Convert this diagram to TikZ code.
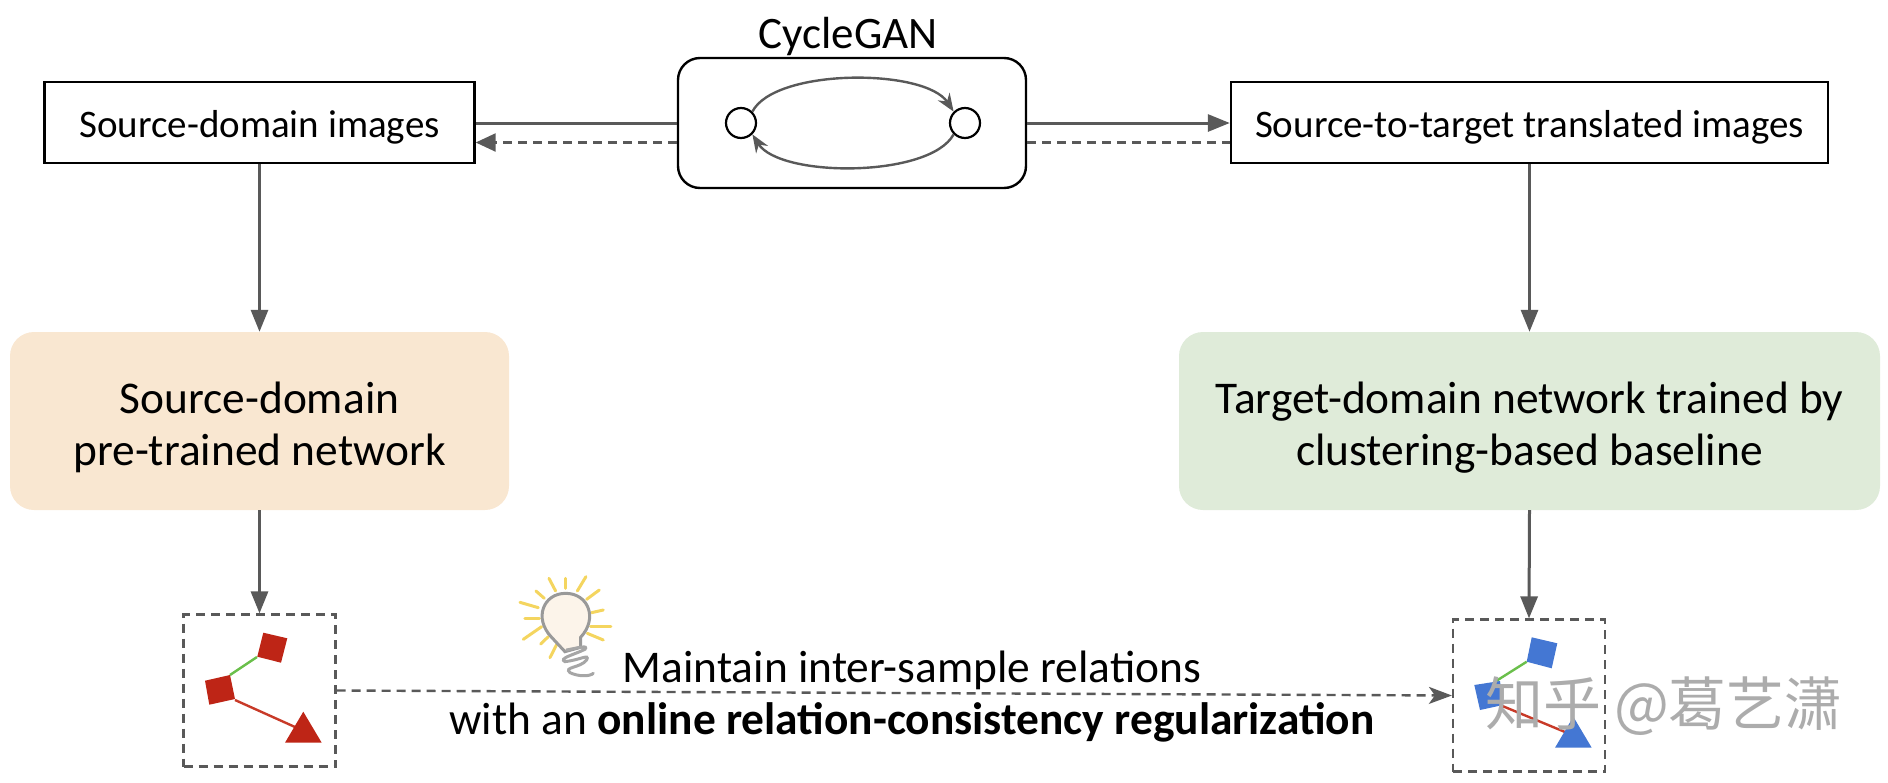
\documentclass[tikz,border=0pt]{standalone}
\usepackage{fontspec}
\setmainfont{Carlito}
\newfontfamily\cjkwm{Noto Sans CJK SC}
\usetikzlibrary{arrows.meta}
\definecolor{linegray}{HTML}{595959}
\definecolor{orangefill}{HTML}{F9E7D1}
\definecolor{greenfill}{HTML}{DFEBD9}
\definecolor{redshape}{HTML}{BE2516}
\definecolor{blueshape}{HTML}{4477D3}
\definecolor{greenline}{HTML}{6ABF4B}
\definecolor{redline}{HTML}{C83A28}
\definecolor{raycolor}{HTML}{F4D55F}
\tikzset{
  x=1pt,y=-1pt,
  lab/.style={inner sep=0pt,align=center},
  plainbox/.style={draw=black,line width=2.4pt,inner sep=0pt,minimum width=#1,minimum height=81pt,font=\fontsize{39}{46}\selectfont},
  softbox/.style={rounded corners=24pt,inner sep=0pt,minimum height=178pt,align=center,font=\fontsize{45.4}{52}\selectfont},
  dashbox/.style={draw=linegray,line width=2.2pt,dash pattern=on 9pt off 6pt,minimum width=152pt,minimum height=152pt,inner sep=0pt},
  flow/.style={draw=linegray,line width=3pt,-{Triangle[length=22pt,width=17pt]}},
  flowplain/.style={draw=linegray,line width=3pt},
  flowdash/.style={draw=linegray,line width=2.4pt,dash pattern=on 9pt off 6pt},
  tip/.style={-{Triangle[length=20pt,width=18pt]}},
  dot/.style={circle,draw=black,line width=2.2pt,fill=white,minimum size=30pt,inner sep=0pt},
  loop/.style={draw=linegray,line width=2.4pt,-{Stealth[length=18pt,width=14pt]}},
  ray/.style={draw=raycolor,line width=3pt,line cap=round},
}
\begin{document}
\begin{tikzpicture}
\useasboundingbox (0,0) rectangle (1888,782);
% top row
\node[plainbox=430pt,text depth=9pt,text height=39pt] (src) at (259.5,122.5) {Source-domain images};
\node[plainbox=597pt,text depth=9pt,text height=39pt] (tgt) at (1529.5,122.5) {Source-to-target translated images};
\node[draw=black,line width=2.4pt,rounded corners=22pt,minimum width=348pt,minimum height=130pt,inner sep=0pt] (gan) at (852,123) {};
\node[lab,font=\fontsize{45}{50}\selectfont] (gantitle) at (848,36.5) {CycleGAN};
\node[dot] (c1) at (741,123) {};
\node[dot] (c2) at (965,123) {};
\draw[loop] (c1.north east) .. controls (775,68) and (925,68) .. (c2.north west);
\draw[loop] (c2.south west) .. controls (930,178) and (780,178) .. (c1.south east);
% links around CycleGAN
\draw[flowplain] (gan.west) -- (src.east |- gan.west);
\draw[flowdash,tip] ([yshift=-19.5pt]gan.west) -- ([yshift=-20pt]src.east);
\draw[flow] (gan.east) -- (tgt.west |- gan.east);
\draw[flowdash] ([yshift=-19.5pt]gan.east) -- ([yshift=-20pt]tgt.west);
% networks
\node[softbox,fill=orangefill,minimum width=499pt] (srcnet) at (259.5,421) {\rule{0pt}{45pt}Source-domain\\pre-trained network};
\node[softbox,fill=greenfill,minimum width=701pt] (tgtnet) at (1529.5,421) {\rule{0pt}{45pt}Target-domain network trained by\\clustering-based baseline};
\draw[flow] (src.south) -- (srcnet.north);
\draw[flow] (tgt.south) -- (tgtnet.north);
% relation boxes
\node[dashbox] (srcrel) at (259.5,690.5) {};
\node[dashbox] (tgtrel) at (1529,695.5) {};
\draw[flow] (srcnet.south) -- (srcrel.north);
\draw[flow] (tgtnet.south) -- (tgtrel.north);
\draw[flowdash,-{Stealth[length=23pt,width=17pt,inset=6pt]}] (srcrel.east) -- (tgtrel.west);
% left relation glyph
\draw[greenline,line width=2.4pt] (230,675) -- (257,657);
\draw[redline,line width=2.4pt] (235,700) -- (295,727);
\fill[redshape] (263.3,632.7) -- (287.3,638.3) -- (281,662.7) -- (257.3,656.7) -- cycle;
\fill[redshape] (205,680.7) -- (230,675) -- (235,699) -- (209.3,704.7) -- cycle;
\fill[redshape] (303.3,711.7) -- (321.7,742.7) -- (285,742.7) -- cycle;
% right relation glyph
\draw[greenline,line width=2.4pt] (1526.7,661.7) -- (1495,681.7);
\draw[redline,line width=2.4pt] (1500,705) -- (1565,732);
\fill[blueshape] (1531.7,637.3) -- (1557.3,643.3) -- (1551.7,668.3) -- (1526.7,661.7) -- cycle;
\fill[blueshape] (1474.3,685) -- (1500,681) -- (1503,705) -- (1480,710) -- cycle;
\fill[blueshape] (1573.3,716.7) -- (1591.7,747.7) -- (1555,747.7) -- cycle;
% bulb
\begin{scope}[shift={(150,560)},x=0.3333pt,y=-0.3333pt]
  \foreach \a/\b/\c/\d in {1110/127/1165/143,1125/175/1168/175,1120/238/1175/200,1172/252/1195/230,1200/293/1222/250,1158/93/1183/115,1197/55/1217/93,1247/55/1247/85,1308/50/1282/93,1348/90/1310/118,1360/150/1325/158,1383/199/1322/199,1360/240/1312/220}
    \draw[ray] (\a,\b) -- (\c,\d);
  \draw[draw=gray!80,line width=3pt,fill=orangefill!45] (1205,232) .. controls (1150,175) and (1180,100) .. (1247,100) .. controls (1315,100) and (1345,175) .. (1292,232) -- (1292,262) -- (1245,275) -- cycle;
  \draw[draw=gray!70,line width=3pt,line cap=round] (1250,270) .. controls (1290,262) and (1315,255) .. (1305,268) .. controls (1270,285) and (1225,295) .. (1245,305) .. controls (1290,300) and (1320,280) .. (1310,300) .. controls (1290,325) and (1240,320) .. (1260,338) .. controls (1285,350) and (1320,350) .. (1330,340);
\end{scope}
% lower text
\node[lab,font=\fontsize{45.4}{52}\selectfont] (relnote) at (912,696.5) {Maintain inter-sample relations\\with an \textbf{online relation-consistency regularization}};
% watermark
\node[inner sep=0pt,text=gray!65,font=\cjkwm\fontsize{58}{64}\selectfont] (wm) at (1664,706) {知乎 @葛艺潇};
\end{tikzpicture}
\end{document}
